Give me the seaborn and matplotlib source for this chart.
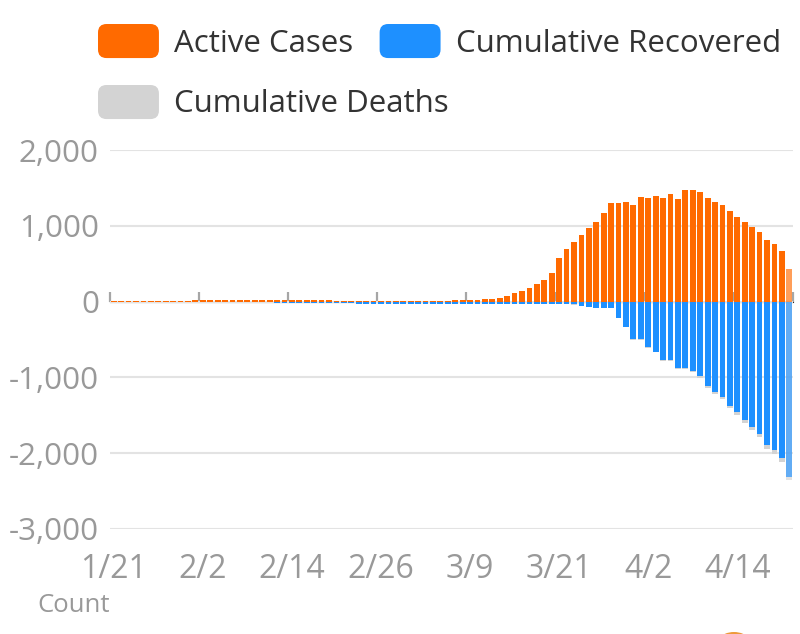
import numpy as np
import pandas as pd
import matplotlib
matplotlib.use("Agg")
import matplotlib.pyplot as plt
import seaborn as sns
from matplotlib.patches import Patch, FancyBboxPatch, Ellipse
from matplotlib.legend_handler import HandlerPatch

# ---------------- data ----------------
dates = [f"{d.month}/{d.day}" for d in pd.date_range("2020-01-21", "2020-04-21")]

active_cases = [
    2, 3, 4, 5, 6, 7, 8, 11, 12, 13,
    14, 15, 16, 17, 19, 22, 23, 24, 24, 25,
    25, 24, 23, 22, 21, 20, 19, 18, 16, 15,
    13, 12, 11, 10, 9, 8, 8, 7, 9, 10,
    11, 11, 12, 12, 13, 14, 15, 16, 18, 22,
    30, 38, 49, 80, 116, 142, 178, 236, 289, 378,
    569, 689, 787, 876, 969, 1053, 1164, 1302, 1302, 1320,
    1276, 1378, 1364, 1396, 1373, 1422, 1360, 1471, 1471, 1449,
    1369, 1316, 1271, 1191, 1120, 1049, 978, 916, 809, 760,
    671, 436,
]

cumulative_recovered = [
    0, 0, 0, 0, 0, 2, 2, 5, 5, 5,
    5, 5, 5, 5, 5, 5, 8, 8, 10, 10,
    10, 10, 12, 14, 14, 15, 15, 15, 17, 20,
    22, 22, 24, 26, 28, 28, 30, 31, 31, 31,
    30, 30, 30, 30, 30, 30, 30, 30, 30, 30,
    30, 30, 30, 30, 30, 30, 30, 30, 30, 30,
    30, 34, 38, 59, 71, 84, 84, 83, 213, 331,
    493, 491, 600, 659, 776, 774, 873, 871, 914, 986,
    1110, 1192, 1259, 1372, 1458, 1561, 1651, 1745, 1898, 1962,
    2069, 2308,
]

cumulative_deaths = [
    0, 0, 0, 0, 0, 0, 0, 0, 0, 0,
    0, 0, 0, 0, 0, 0, 0, 0, 0, 0,
    0, 0, 0, 0, 0, 0, 0, 0, 0, 0,
    0, 0, 0, 0, 0, 0, 0, 0, 0, 0,
    1, 1, 1, 1, 1, 1, 1, 1, 1, 1,
    1, 1, 1, 1, 1, 1, 1, 1, 1, 1,
    1, 1, 1, 2, 3, 4, 4, 5, 6, 7,
    7, 9, 10, 12, 13, 15, 17, 19, 20, 23,
    26, 27, 30, 32, 33, 35, 38, 40, 41, 42,
    45, 47,
]

tick_labels = ["1/21", "2/2", "2/14", "2/26", "3/9", "3/21", "4/2", "4/14"]
y_ticks = [-3000, -2000, -1000, 0, 1000, 2000]

series_names = ["Active Cases", "Cumulative Recovered", "Cumulative Deaths"]
c_active = "#FF6A00"
c_recovered = "#1E90FF"
c_deaths = "#D3D3D3"

# ---------------- styling ----------------
sns.set_style("white")
plt.rcParams["font.family"] = ["Open Sans", "DejaVu Sans"]

df = pd.DataFrame({
    "date": dates,
    "active": active_cases,
    "recovered_neg": -np.array(cumulative_recovered),
    "removed_neg": -(np.array(cumulative_recovered) + np.array(cumulative_deaths)),
})

fig = plt.figure(figsize=(8.0, 6.34), dpi=100)
ax = fig.add_axes([110 / 800, 1 - 529 / 634, 683 / 800, 379 / 634])

bw = 0.78
sns.barplot(data=df, x="date", y="active", order=dates, color=c_active,
            saturation=1, width=bw, errorbar=None, ax=ax, zorder=3)
sns.barplot(data=df, x="date", y="removed_neg", order=dates, color=c_deaths,
            saturation=1, width=bw, errorbar=None, ax=ax, zorder=3)
sns.barplot(data=df, x="date", y="recovered_neg", order=dates, color=c_recovered,
            saturation=1, width=bw, errorbar=None, ax=ax, zorder=3)

# the latest day is drawn lighter
for cont in ax.containers:
    cont[-1].set_alpha(0.65)
for p in ax.patches:
    p.set_edgecolor("none")

n = len(dates)
ax.set_xlim(-0.5, n - 0.5)
ax.set_ylim(-3000, 2000)

# y axis
ax.set_yticks(y_ticks)
ax.set_yticklabels([f"{v:,}" for v in y_ticks])
ax.tick_params(axis="y", length=0, pad=8, labelsize=22.5, labelcolor="#999999")
ax.yaxis.grid(True, color="#E3E3E3", linewidth=1.5, zorder=0)
ax.xaxis.grid(False)
for s in ax.spines.values():
    s.set_visible(False)

# x labels at the bottom (band centres)
label_pos = [dates.index(t) for t in tick_labels]
ax.set_xticks([], minor=False)
ax.set_xticks(label_pos, minor=True)
ax.set_xticklabels(tick_labels, minor=True)
ax.tick_params(axis="x", which="minor", length=0, pad=17, labelsize=23,
               labelcolor="#999999")
ax.set_xlabel("")
ax.set_ylabel("")

# category axis line with boundary ticks at y = 0
zero_frac = (0 - (-3000)) / 5000
sec = ax.secondary_xaxis(zero_frac)
sec.set_xticks([p - 0.5 for p in label_pos] + [n - 0.5])
sec.set_xticklabels([])
sec.tick_params(axis="x", length=7, width=1.6, color="#A6A6A6", direction="out")
sec.spines["bottom"].set_color("#A6A6A6")
sec.spines["bottom"].set_linewidth(1.6)
sec.spines["bottom"].set_zorder(5)


# ---------------- legend with rounded swatches ----------------
class RoundHandler(HandlerPatch):
    def create_artists(self, legend, orig_handle, xdescent, ydescent,
                       width, height, fontsize, trans):
        p = FancyBboxPatch((-xdescent, -ydescent), width, height,
                           boxstyle=f"round,pad=0,rounding_size={height * 0.25}",
                           facecolor=orig_handle.get_facecolor(),
                           edgecolor="none", transform=trans)
        return [p]


leg_kw = dict(loc="upper left", frameon=False, fontsize=22.5, handlelength=1.95,
              handleheight=1.3, handletextpad=0.48, columnspacing=0.85,
              borderpad=0, borderaxespad=0, handler_map={Patch: RoundHandler()})
leg1 = fig.legend([Patch(facecolor=c_active), Patch(facecolor=c_recovered)],
                  [series_names[0], series_names[1]], ncol=2,
                  bbox_to_anchor=(98 / 800, 1 - 24 / 634), **leg_kw)
leg2 = fig.legend([Patch(facecolor=c_deaths)], [series_names[2]], ncol=1,
                  bbox_to_anchor=(98 / 800, 1 - 85 / 634), **leg_kw)
for lg in (leg1, leg2):
    for t in lg.get_texts():
        t.set_color("#333333")

fig.text(37 / 800, 1 - 605 / 634, "Count", fontsize=18.5, color="#999999",
         va="center", ha="left")

# small orange badge peeking at the bottom edge
fig.patches.append(Ellipse((734 / 800, 1 - 656 / 634), 48 / 800, 48 / 634,
                           transform=fig.transFigure, facecolor="#EE9A3A",
                           edgecolor="none"))

fig.savefig("out.png", dpi=100)
